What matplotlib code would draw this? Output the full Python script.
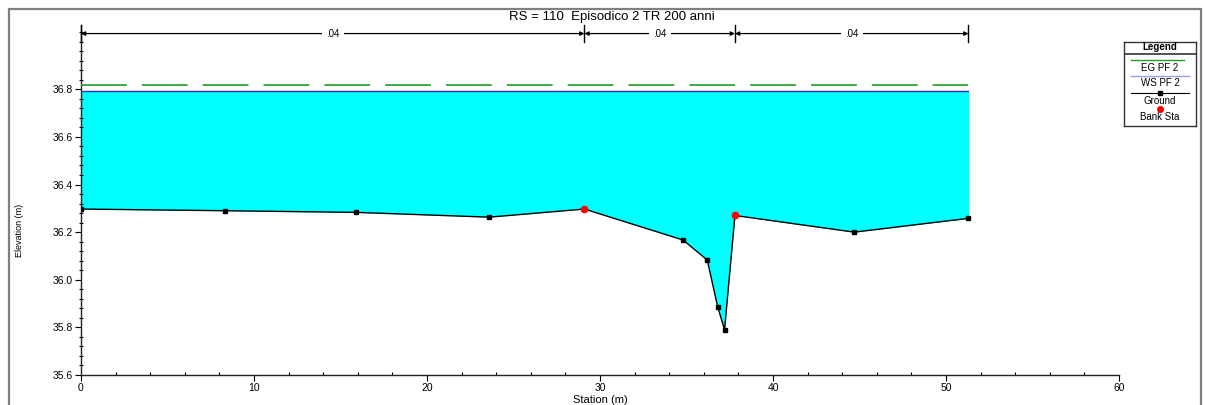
import numpy as np
import matplotlib.pyplot as plt
from matplotlib.patches import Rectangle
from matplotlib.ticker import MultipleLocator, FixedLocator

plt.rcParams['font.family'] = ['Liberation Sans', 'DejaVu Sans']

# sezione trasversale RS 110
station = [0.0, 8.3, 15.9, 23.6, 29.1, 34.8, 36.2, 36.8, 37.2, 37.8, 44.7, 51.3]
ground = [36.297, 36.290, 36.283, 36.263, 36.297, 36.167, 36.083, 35.887, 35.790, 36.270, 36.200, 36.258]
bank_sta = [29.1, 37.8]
bank_elev = [36.297, 36.270]
ws_pf2 = 36.793
eg_pf2 = 36.820
manning_n = ['.04', '.04', '.04']
title = 'RS = 110  Episodico 2 TR 200 anni'

W, H = 1205, 405
fig = plt.figure(figsize=(W / 100, H / 100), dpi=100)

# cornice grigia esterna
fig.patches.append(Rectangle((9 / W, -0.05), (1201 - 9) / W, 1 - 9 / H + 0.05,
                             transform=fig.transFigure, fill=False,
                             edgecolor='#808080', linewidth=1.6))

ax = fig.add_axes([81 / W, 1 - 375 / H, (1119 - 81) / W, (375 - 25) / H])
ax.set_xlim(0, 60)
ax.set_ylim(35.6, 37.07)
for s in ['top', 'right']:
    ax.spines[s].set_visible(False)
for s in ['left', 'bottom']:
    ax.spines[s].set_linewidth(1.0)
    ax.spines[s].set_color('#222222')

# acqua
st = np.array(station)
gr = np.array(ground)
ax.fill_between(st, gr, ws_pf2, color='#00ffff', linewidth=0, zorder=1)
ax.plot([st[0], st[0]], [gr[0], ws_pf2], color='#00ffff', lw=0.5, zorder=1)

ax.plot([st[0], st[-1]], [eg_pf2, eg_pf2], color='#1f9f1f', lw=1.2,
        dashes=(27.5, 9), zorder=3)
ax.plot([st[0], st[-1]], [ws_pf2, ws_pf2], color='#3030c0', lw=1.0, zorder=3)
ax.plot(st, gr, color='black', lw=1.0, marker='s', ms=3.5, zorder=4)
ax.plot(bank_sta, bank_elev, ls='none', marker='o', ms=4.5, color='red',
        markeredgecolor='red', zorder=5)

# tacche
ax.xaxis.set_major_locator(MultipleLocator(10))
ax.xaxis.set_minor_locator(MultipleLocator(2))
ax.yaxis.set_major_locator(FixedLocator([35.6, 35.8, 36.0, 36.2, 36.4, 36.6, 36.8]))
ax.yaxis.set_minor_locator(MultipleLocator(0.04))
ax.tick_params(axis='both', which='major', labelsize=7.5, length=4, width=0.8,
               direction='out', pad=2)
ax.tick_params(axis='x', which='minor', length=2.5, width=0.8, direction='in')
ax.tick_params(axis='y', which='minor', length=3, width=0.8, direction='inout')
ax.yaxis.set_major_formatter(plt.FuncFormatter(lambda v, p: f'{v:.1f}'))

fig.text(20 / W, 1 - 230 / H, 'Elevation (m)', rotation=90, ha='center',
         va='center', fontsize=6.5)
fig.text(600 / W, 1 - 400 / H, 'Station (m)', ha='center', va='center',
         fontsize=8)
fig.text(612 / W, 1 - 17 / H, title, ha='center', va='center', fontsize=9.5)

# scabrezza di Manning
bounds = [station[0], bank_sta[0], bank_sta[1], station[-1]]
y_arr = 37.034
for x in bounds:
    ax.plot([x, x], [36.997, 37.07], color='black', lw=1.0, clip_on=False, zorder=6)
for i, n in enumerate(manning_n):
    a, b = bounds[i], bounds[i + 1]
    ax.annotate('', xy=(a, y_arr), xytext=(b, y_arr),
                arrowprops=dict(arrowstyle='<|-|>', color='black', lw=0.9,
                                mutation_scale=6, shrinkA=0, shrinkB=0),
                annotation_clip=False, zorder=6)
    ax.text((a + b) / 2, y_arr, n, ha='center', va='center', fontsize=7,
            bbox=dict(facecolor='white', edgecolor='none', pad=3),
            clip_on=False, zorder=7)

# legenda
lg = fig.add_axes([1124 / W, 1 - 126 / H, 72 / W, 84 / H])
lg.set_xlim(0, 72)
lg.set_ylim(84, 0)
lg.set_xticks([])
lg.set_yticks([])
for s in lg.spines.values():
    s.set_linewidth(1.0)
    s.set_color('#333333')
lg.text(36, 5.5, 'Legend', ha='center', va='center', fontsize=7, fontweight='bold')
lg.plot([0, 72], [11.5, 11.5], color='#333333', lw=1.2)
lg.plot([7, 60], [17.5, 17.5], color='#1f9f1f', lw=1.0)
lg.text(36, 26, 'EG PF 2', ha='center', va='center', fontsize=7)
lg.plot([7, 65], [34, 34], color='#9999ff', lw=1.0)
lg.text(36, 41, 'WS PF 2', ha='center', va='center', fontsize=7)
lg.plot([7, 65], [50.5, 50.5], color='black', lw=0.8)
lg.plot([36], [50.5], marker='s', ms=3.5, color='black')
lg.text(36, 58.5, 'Ground', ha='center', va='center', fontsize=7)
lg.plot([36], [67], marker='o', ms=4, color='red')
lg.text(36, 75.5, 'Bank Sta', ha='center', va='center', fontsize=7)

fig.savefig('out.png', dpi=100)
